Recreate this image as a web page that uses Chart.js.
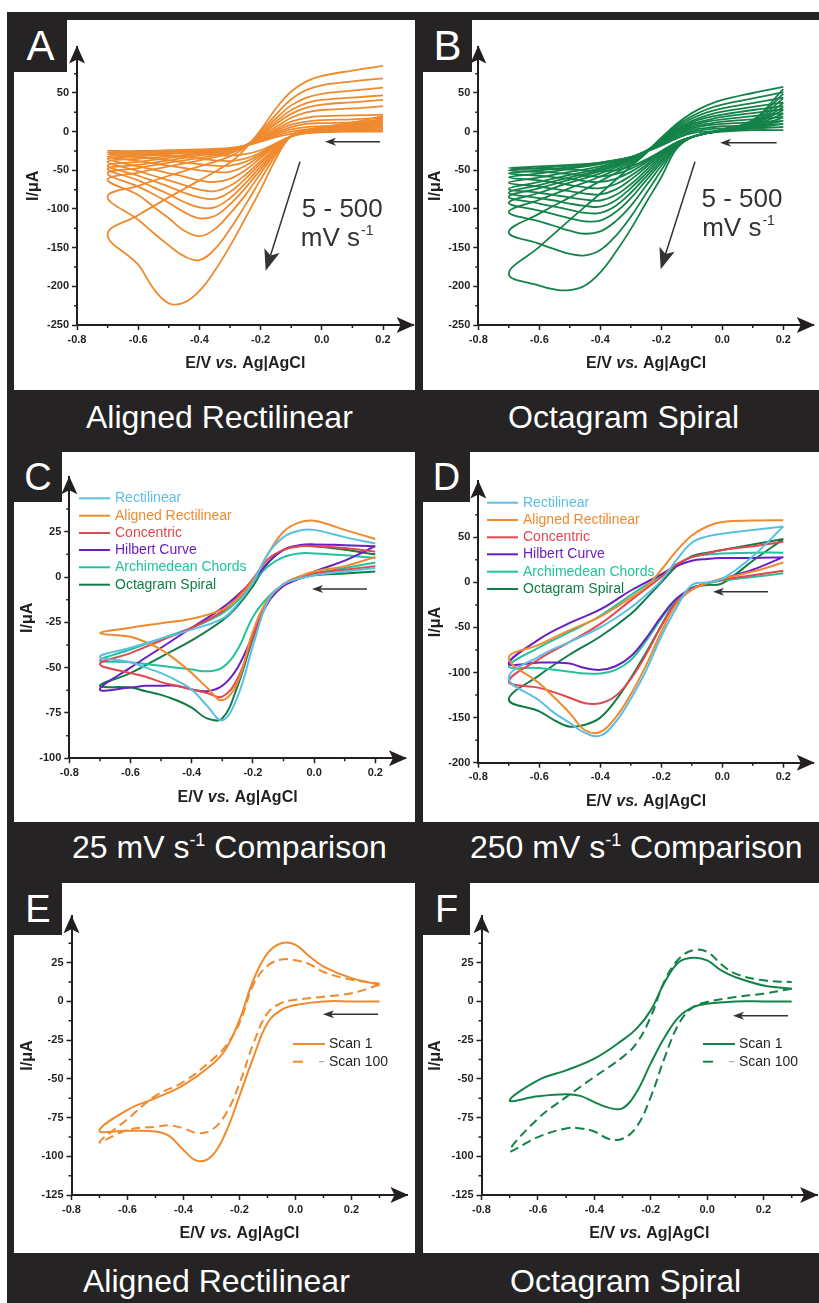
<!DOCTYPE html>
<html>
<head>
<meta charset="utf-8">
<script src="https://cdn.jsdelivr.net/npm/chart.js@4.4.1/dist/chart.umd.min.js"></script>
<style>
  body { margin: 0; width: 819px; height: 1303px; position: relative; overflow: hidden; background: #fff;
         font-family: 'Liberation Sans', Arial, Helvetica, sans-serif; }
  #frame { position: absolute; left: 7px; top: 12px; width: 812px; height: 1291px; background: #252324; }
  .panel { position: absolute; background: #fff; }
  .panel canvas { position: absolute; left: 0; top: 0; }
  .tag { position: absolute; left: 0; top: 0; background: #252324; color: #fff; text-align: center; z-index: 2; }
  .caption { position: absolute; color: #fff; font-size: 32px; line-height: 40px; white-space: nowrap; }
  .caption span { font-size: 18px; vertical-align: 12px; line-height: 0; }
</style>
</head>
<body>
<div id="frame"></div>

<div class="panel" style="left:14px;top:20px;width:401px;height:370px">
  <canvas id="chartA" width="401" height="370"></canvas>
  <div class="tag" style="width:53px;height:52px;line-height:52px;font-size:42px">A</div>
</div>
<div class="panel" style="left:423px;top:20px;width:396px;height:370px">
  <canvas id="chartB" width="396" height="370"></canvas>
  <div class="tag" style="width:49px;height:52px;line-height:52px;font-size:42px">B</div>
</div>
<div class="panel" style="left:14px;top:452px;width:401px;height:370px">
  <canvas id="chartC" width="401" height="370"></canvas>
  <div class="tag" style="width:48px;height:50px;line-height:50px;font-size:38px">C</div>
</div>
<div class="panel" style="left:423px;top:452px;width:396px;height:370px">
  <canvas id="chartD" width="396" height="370"></canvas>
  <div class="tag" style="width:47px;height:50px;line-height:50px;font-size:38px">D</div>
</div>
<div class="panel" style="left:14px;top:883px;width:401px;height:370px">
  <canvas id="chartE" width="401" height="370"></canvas>
  <div class="tag" style="width:48px;height:52px;line-height:52px;font-size:38px">E</div>
</div>
<div class="panel" style="left:423px;top:883px;width:396px;height:370px">
  <canvas id="chartF" width="396" height="370"></canvas>
  <div class="tag" style="width:47px;height:52px;line-height:52px;font-size:38px">F</div>
</div>

<div class="caption" style="left:86px;top:397px">Aligned Rectilinear</div>
<div class="caption" style="left:508px;top:397px">Octagram Spiral</div>
<div class="caption" style="left:72px;top:827px">25 mV s<span>-1</span> Comparison</div>
<div class="caption" style="left:470px;top:827px">250 mV s<span>-1</span> Comparison</div>
<div class="caption" style="left:83px;top:1261px">Aligned Rectilinear</div>
<div class="caption" style="left:510px;top:1261px">Octagram Spiral</div>

<script>
const INK = '#231f20';
const FONT = "'Liberation Sans', Arial, Helvetica, sans-serif";
Chart.defaults.font.family = FONT;

const ORANGE = '#ef8a2e';
const GREEN = '#14834a';

// potentials (V) where the currents were read: cathodic sweep, then return sweep
const FWD_E = [0.2, 0.1, 0.0, -0.05, -0.1, -0.15, -0.2, -0.25, -0.3, -0.35, -0.4, -0.45, -0.5, -0.55, -0.6, -0.7];
const REV_E = [-0.6, -0.5, -0.4, -0.3, -0.25, -0.2, -0.15, -0.1, -0.05, 0.0, 0.1, 0.2];
const FWD_E_SCAN = [0.3, 0.2, 0.1, 0.0, -0.05, -0.1, -0.15, -0.2, -0.25, -0.3, -0.35, -0.4, -0.45, -0.5, -0.6, -0.7];
const REV_E_SCAN = [-0.6, -0.5, -0.4, -0.3, -0.25, -0.2, -0.15, -0.1, -0.05, 0.0, 0.05, 0.1, 0.2, 0.3];

// A: aligned rectilinear, 500 -> 5 mV/s (uA)
const aForward = [
  [20, 12, 6, 2, -5, -35, -75, -112, -148, -180, -206, -221, -222, -203, -172, -133],
  [17, 10, 5, 1, -6, -30, -62, -95, -126, -152, -166, -161, -147, -131, -114, -84],
  [15, 9, 4, 0, -6, -27, -54, -82, -106, -126, -135, -128, -112, -97, -82, -62],
  [13, 8, 3, 0, -6, -25, -49, -73, -94, -109, -112, -104, -92, -81, -71, -54],
  [11, 7, 3, 0, -6, -24, -45, -67, -86, -98, -98, -91, -81, -72, -63, -48],
  [10, 6, 2, -1, -6, -22, -41, -61, -78, -87, -85, -79, -71, -64, -57, -44],
  [8, 5, 2, -1, -6, -21, -38, -56, -70, -77, -75, -69, -63, -57, -51, -39],
  [7, 4, 1, -1, -6, -19, -34, -50, -61, -65, -63, -58, -54, -49, -45, -35],
  [5, 3, 1, -1, -6, -18, -31, -44, -52, -52, -50, -47, -44, -41, -38, -32],
  [4, 2, 0, -1, -6, -17, -29, -39, -44, -44, -42, -40, -37, -35, -33, -29],
  [2, 1, 0, -2, -6, -16, -27, -35, -38, -37, -35, -33, -31, -30, -29, -27],
  [0, 0, -1, -2, -6, -15, -24, -29, -31, -30, -29, -28, -27, -26, -26, -25]
];
const aReverse = [
  [-108, -85, -63, -40, -22, 2, 30, 52, 65, 72, 79, 85],
  [-70, -57, -45, -32, -20, 0, 22, 42, 54, 60, 65, 69],
  [-53, -45, -37, -28, -19, -2, 17, 34, 44, 49, 53, 57],
  [-47, -40, -34, -26, -18, -4, 13, 28, 37, 41, 44, 47],
  [-43, -37, -31, -25, -18, -5, 10, 23, 31, 35, 38, 41],
  [-39, -34, -29, -24, -18, -6, 6, 18, 25, 28, 30, 33],
  [-35, -32, -28, -23, -18, -8, 3, 13, 18, 20, 21, 22],
  [-32, -29, -27, -23, -18, -9, 1, 9, 13, 15, 16, 18],
  [-30, -28, -26, -22, -18, -10, -1, 6, 10, 11, 12, 14],
  [-28, -27, -25, -22, -18, -11, -3, 3, 6, 7, 8, 10],
  [-26, -25, -24, -22, -18, -12, -5, 0, 3, 4, 4, 5],
  [-25, -24, -23, -21, -18, -13, -7, -3, 0, 1, 1, 1]
];

// B: octagram spiral, 500 -> 5 mV/s (uA)
const bForward = [
  [55, 15, 3, -2, -7, -22, -59, -92, -126, -156, -182, -199, -205, -204, -199, -184],
  [49, 14, 3, -2, -7, -20, -50, -80, -110, -135, -153, -160, -158, -152, -145, -130],
  [43, 12, 2, -2, -7, -19, -44, -70, -96, -116, -129, -132, -128, -122, -116, -104],
  [37, 11, 2, -2, -7, -18, -40, -63, -86, -104, -115, -116, -112, -107, -102, -92],
  [32, 10, 2, -2, -7, -17, -37, -58, -79, -96, -105, -105, -101, -97, -93, -84],
  [28, 9, 2, -2, -7, -16, -34, -54, -73, -89, -97, -96, -93, -89, -86, -79],
  [23, 8, 1, -2, -7, -15, -32, -50, -68, -82, -89, -88, -85, -82, -79, -74],
  [18, 7, 1, -2, -7, -15, -30, -46, -62, -75, -81, -80, -77, -74, -71, -66],
  [14, 6, 1, -2, -7, -14, -28, -43, -57, -68, -73, -72, -69, -66, -63, -59],
  [10, 5, 1, -2, -7, -14, -27, -40, -52, -61, -65, -64, -61, -59, -57, -54],
  [6, 4, 1, -2, -7, -14, -26, -38, -48, -55, -58, -57, -55, -53, -52, -50],
  [2, 2, 0, -2, -7, -14, -25, -36, -45, -50, -51, -50, -49, -48, -48, -47]
];
const bReverse = [
  [-149, -114, -80, -45, -28, -8, 10, 24, 34, 41, 50, 58],
  [-106, -85, -64, -42, -27, -8, 8, 20, 29, 35, 43, 51],
  [-88, -73, -58, -40, -27, -9, 6, 17, 25, 30, 37, 44],
  [-79, -66, -54, -38, -26, -10, 4, 14, 21, 26, 32, 38],
  [-73, -62, -51, -37, -25, -11, 2, 12, 18, 22, 28, 33],
  [-69, -59, -49, -36, -25, -12, 1, 10, 15, 19, 24, 29],
  [-65, -56, -47, -35, -25, -13, 0, 8, 13, 16, 20, 24],
  [-59, -52, -45, -34, -25, -14, -2, 6, 10, 13, 16, 19],
  [-54, -48, -42, -33, -25, -15, -3, 4, 8, 10, 12, 14],
  [-50, -46, -41, -33, -25, -16, -5, 2, 5, 7, 8, 10],
  [-47, -44, -40, -33, -26, -17, -7, 0, 3, 4, 5, 6],
  [-45, -43, -40, -33, -26, -18, -9, -2, 0, 1, 2, 2]
];

// C and D: electrode geometries compared
const geometries = ['Rectilinear', 'Aligned Rectilinear', 'Concentric', 'Hilbert Curve', 'Archimedean Chords', 'Octagram Spiral'];
const geometryColors = ['#5bbfe2', ORANGE, '#e3474f', '#6a1fc2', '#22c29b', '#0f7d45'];

const cForward = [
  [5, 3, 1, -1, -4, -13, -38, -66, -79, -71, -62, -57, -53, -50, -47, -44],
  [11, 6, 3, 0, -4, -12, -30, -58, -68, -61, -53, -46, -40, -36, -33, -31],
  [6, 4, 2, 0, -4, -13, -33, -56, -66, -64, -62, -60, -58, -55, -53, -48],
  [17, 9, 3, -1, -5, -14, -32, -50, -60, -63, -62, -60, -60, -60, -61, -62],
  [8, 5, 2, 0, -4, -11, -22, -40, -50, -52, -51, -50, -49, -48, -47, -46],
  [3, 2, 1, -1, -4, -13, -34, -60, -78, -78, -72, -68, -65, -63, -61, -60]
];
const cReverse = [
  [-39, -34, -29, -23, -15, -3, 13, 22, 25.5, 26, 22, 18.5],
  [-28, -25.5, -23, -18, -12, -2, 13, 25, 30, 31, 26, 21],
  [-42, -35, -28, -19, -11, -1, 10, 15, 17, 17, 16, 14],
  [-50, -39, -28, -17, -10, -2, 8, 15, 17.5, 18, 17.5, 17],
  [-40, -34, -28, -20, -13, -3, 6, 11, 13, 13, 12, 10.5],
  [-53, -44, -35, -24, -16, -5, 8, 15, 17, 17, 15, 12.5]
];

const dForward = [
  [62, 29, 4, 0, -3, -28, -60, -98, -129, -155, -170, -167, -156, -145, -131, -106],
  [22, 12, 4, -1, -8, -24, -55, -92, -124, -150, -166, -164, -145, -128, -112, -84],
  [13, 8, 3, -1, -8, -22, -48, -80, -107, -126, -134, -134, -128, -122, -117, -110],
  [28, 14, 4, -1, -7, -18, -38, -62, -82, -93, -97, -95, -90, -89, -89, -90],
  [10, 6, 2, -1, -7, -19, -40, -65, -86, -97, -101, -101, -99, -97, -95, -93],
  [48, 24, -1, -3, -6, -20, -48, -78, -106, -131, -150, -158, -160, -153, -143, -130]
];
const dReverse = [
  [-82, -66, -50, -28, -14, 2, 25, 44, 51, 54, 58, 62],
  [-69, -53, -38, -17, -5, 14, 35, 52, 62, 67, 68.5, 69],
  [-85, -66, -46, -20, -7, 6, 20, 28, 32, 36, 40, 45],
  [-63, -45, -30, -9, 0, 9, 18, 24, 26, 27, 27, 28],
  [-72, -55, -37, -14, -3, 8, 20, 28, 31, 32, 33, 33],
  [-103, -80, -60, -35, -18, 0, 18, 29, 33, 36, 42, 48]
];

// E and F: scan 1 vs scan 100
const scanLabels = ['Scan 1', 'Scan 100'];
const eForward = [
  [0, 0, 0, -2.3, -5.5, -14, -36, -61, -85, -100, -103, -96, -87, -84, -83.5, -83.5],
  [10.7, 5.3, 3, 1, -1, -7.6, -27, -53, -73, -83, -85, -82, -80, -81, -83, -91]
];
const eReverse = [
  [-70, -62.5, -54, -41, -31, -12, 14, 31, 37.5, 36.5, 29, 22.5, 15, 10.7],
  [-76, -61, -52, -38, -29, -14, 11, 23, 27, 26.5, 24, 19, 14, 11.5]
];
const fForward = [
  [0, 0, 0, -1.5, -3.7, -10, -23, -40, -58.5, -69, -68.6, -65, -61, -60, -61.3, -64],
  [8.2, 5, 2.8, -0.4, -3.7, -14.4, -36, -61.8, -81, -88.7, -88.7, -84, -82, -82, -87.6, -96.6]
];
const fReverse = [
  [-51, -44.5, -37, -25, -17.6, -5.8, 12.5, 25.4, 28.2, 26.5, 20, 15.7, 10.3, 8.2],
  [-75.7, -61.8, -48.8, -36, -27, -10, 13.6, 27.5, 33, 32, 24, 17.9, 13.6, 12.5]
];

// tick values
const xTicks = [-0.8, -0.6, -0.4, -0.2, 0.0, 0.2];
const xMinorAB = [-0.7, -0.5, -0.3, -0.1, 0.1];
const xMinorEF = [-0.7, -0.5, -0.3, -0.1, 0.1, 0.3];
const yTicksAB = [-250, -200, -150, -100, -50, 0, 50];
const yMinorAB = [-225, -175, -125, -75, -25, 25, 75];
const yTicksC = [-100, -75, -50, -25, 0, 25];
const yMinorC = [-87.5, -62.5, -37.5, -12.5, 12.5, 37.5];
const yTicksD = [-200, -150, -100, -50, 0, 50];
const yMinorD = [-175, -125, -75, -25, 25, 75];
const yTicksEF = [-125, -100, -75, -50, -25, 0, 25];
const yMinorEF = [-112.5, -87.5, -62.5, -37.5, -12.5, 12.5, 37.5];

function loop(eF, iF, eR, iR) {
  return eF.map((e, k) => ({x: e, y: iF[k]})).concat(eR.map((e, k) => ({x: e, y: iR[k]})));
}

function arrowHead(ctx, tx, ty, dx, dy, len, half, notch) {
  const px = -dy, py = dx;
  ctx.beginPath();
  ctx.moveTo(tx, ty);
  ctx.lineTo(tx - dx * len + px * half, ty - dy * len + py * half);
  ctx.lineTo(tx - dx * (len - notch), ty - dy * (len - notch));
  ctx.lineTo(tx - dx * len - px * half, ty - dy * len - py * half);
  ctx.closePath();
  ctx.fill();
}

function arrow(ctx, x0, y0, x1, y1, len, half, notch) {
  const d = Math.hypot(x1 - x0, y1 - y0), dx = (x1 - x0) / d, dy = (y1 - y0) / d;
  ctx.beginPath();
  ctx.moveTo(x0, y0);
  ctx.lineTo(x1 - dx * (len - notch), y1 - dy * (len - notch));
  ctx.stroke();
  arrowHead(ctx, x1, y1, dx, dy, len, half, notch);
}

const decoPlugin = {
  id: 'deco',
  afterDraw(chart, args, o) {
    const {ctx, chartArea: a} = chart;
    const sx = chart.scales.x, sy = chart.scales.y;
    ctx.save();
    ctx.strokeStyle = INK;
    ctx.fillStyle = INK;
    ctx.lineWidth = 1.5;
    ctx.beginPath();
    o.minorX.forEach(v => { const p = sx.getPixelForValue(v); ctx.moveTo(p, a.bottom); ctx.lineTo(p, a.bottom + 3); });
    o.minorY.forEach(v => { const p = sy.getPixelForValue(v); ctx.moveTo(a.left, p); ctx.lineTo(a.left - 3, p); });
    ctx.stroke();
    arrowHead(ctx, a.left, a.top - 1, 0, -1, 18, 8, 4);
    arrowHead(ctx, a.right + 1, a.bottom, 1, 0, 18, 8, 4);

    // x axis title with italic "vs."
    const parts = [['E/V ', 'bold 16px ' + FONT], ['vs.', 'italic bold 16px ' + FONT], [' Ag|AgCl', 'bold 16px ' + FONT]];
    let w = 0;
    parts.forEach(p => { ctx.font = p[1]; w += ctx.measureText(p[0]).width; });
    let x = (a.left + a.right) / 2 - w / 2;
    ctx.textAlign = 'left';
    ctx.textBaseline = 'alphabetic';
    parts.forEach(p => { ctx.font = p[1]; ctx.fillText(p[0], x, o.xTitleY); x += ctx.measureText(p[0]).width; });

    // scan direction arrow
    const s = o.scanArrow;
    ctx.strokeStyle = '#333';
    ctx.fillStyle = '#333';
    ctx.lineWidth = 1.5;
    arrow(ctx, s.x0, s.y, s.x1, s.y, 11, 4, 3);

    if (o.diag) {
      const g = o.diag;
      arrow(ctx, g.x0, g.y0, g.x1, g.y1, 21, 8, 5);
      ctx.font = '26px ' + FONT;
      ctx.textAlign = 'center';
      ctx.fillText('5 - 500', g.tx1, g.ty1);
      ctx.textAlign = 'left';
      const w1 = ctx.measureText('mV s').width;
      ctx.font = '14px ' + FONT;
      const w2 = ctx.measureText('-1').width;
      const sx0 = g.tx2 - (w1 + w2) / 2;
      ctx.font = '26px ' + FONT;
      ctx.fillText('mV s', sx0, g.ty2);
      ctx.font = '14px ' + FONT;
      ctx.fillText('-1', sx0 + w1 + 1, g.ty2 - 11);
    }

    if (o.legend) {
      const L = o.legend;
      ctx.font = '14px ' + FONT;
      ctx.textBaseline = 'middle';
      ctx.textAlign = 'left';
      chart.data.datasets.forEach((ds, i) => {
        const y = L.rows[i];
        ctx.strokeStyle = ds.borderColor;
        ctx.lineWidth = 2;
        ctx.beginPath(); ctx.moveTo(L.x0, y); ctx.lineTo(L.x1, y); ctx.stroke();
        ctx.fillStyle = ds.borderColor;
        ctx.fillText(ds.label, L.tx, y);
      });
    }

    if (o.scanLegend) {
      const L = o.scanLegend;
      ctx.font = '14px ' + FONT;
      ctx.textBaseline = 'middle';
      ctx.textAlign = 'left';
      chart.data.datasets.forEach((ds, i) => {
        const y = L.rows[i];
        ctx.strokeStyle = ds.borderColor;
        ctx.lineWidth = 2;
        ctx.beginPath();
        if (i === 0) { ctx.moveTo(L.x0, y); ctx.lineTo(L.x1, y); }
        else { ctx.moveTo(L.x0, y); ctx.lineTo(L.x0 + 10, y); }
        ctx.stroke();
        if (i === 1) {
          ctx.strokeStyle = '#9a9a9a'; ctx.lineWidth = 1;
          ctx.beginPath(); ctx.moveTo(L.x0 + 26, y); ctx.lineTo(L.x0 + 31, y); ctx.stroke();
        }
        ctx.fillStyle = INK;
        ctx.fillText(ds.label, L.tx, y);
      });
    }
    ctx.restore();
  }
};

function makeChart(id, c) {
  const tickFont = {size: 11, weight: 'bold'};
  const grid = {drawOnChartArea: false, drawTicks: true, tickLength: 5, tickWidth: 1.5, tickColor: INK};
  const border = {display: true, color: INK, width: 2};
  return new Chart(document.getElementById(id), {
    type: 'scatter',
    data: {datasets: c.datasets},
    options: {
      responsive: false,
      animation: false,
      devicePixelRatio: 1,
      layout: {padding: {top: c.top, right: c.right, left: 0, bottom: 0}},
      elements: {point: {radius: 0}},
      plugins: {legend: {display: false}, tooltip: {enabled: false}, deco: c.deco},
      scales: {
        x: {
          type: 'linear', min: -0.8, max: c.xMax,
          afterFit: s => { s.height = c.xH; },
          afterBuildTicks: s => { s.ticks = xTicks.map(v => ({value: v})); },
          ticks: {callback: v => v.toFixed(1), font: tickFont, color: INK, padding: 3, maxRotation: 0, autoSkip: false},
          grid: grid, border: border
        },
        y: {
          type: 'linear', min: c.yMin, max: c.yMax,
          afterFit: s => { s.width = c.yW; },
          afterBuildTicks: s => { s.ticks = c.yTicks.map(v => ({value: v})); },
          ticks: {callback: v => String(v), font: tickFont, color: INK, padding: 3, autoSkip: false},
          title: {display: true, text: 'I/μA', font: {size: 16, weight: 'bold'}, color: INK, padding: {top: c.yTitlePad, bottom: 0}},
          grid: grid, border: border
        }
      }
    },
    plugins: [decoPlugin]
  });
}

function familySets(fwd, rev, color) {
  return fwd.map((f, i) => ({
    label: 'run ' + (i + 1), data: loop(FWD_E, f, REV_E, rev[i]), showLine: true,
    borderColor: color, borderWidth: 1.8, tension: 0.4, pointRadius: 0
  }));
}
function compareSets(fwd, rev) {
  return fwd.map((f, i) => ({
    label: geometries[i], data: loop(FWD_E, f, REV_E, rev[i]), showLine: true,
    borderColor: geometryColors[i], borderWidth: 2, tension: 0.4, pointRadius: 0
  }));
}
function scanSets(fwd, rev, color) {
  return fwd.map((f, i) => ({
    label: scanLabels[i], data: loop(FWD_E_SCAN, f, REV_E_SCAN, rev[i]), showLine: true,
    borderColor: color, borderWidth: 2, borderDash: i === 1 ? [9, 5] : [], tension: 0.4, pointRadius: 0
  }));
}

makeChart('chartA', {
  datasets: familySets(aForward, aReverse, ORANGE),
  top: 26.6, right: 1.4, yW: 63, xH: 65, xMax: 0.3, yMin: -250, yMax: 110, yTicks: yTicksAB, yTitlePad: 10.4,
  deco: {minorX: xMinorAB, minorY: yMinorAB, xTitleY: 347.7,
         scanArrow: {x0: 366, x1: 311, y: 121.7},
         diag: {x0: 286, y0: 141.7, x1: 251.7, y1: 250.7, tx1: 328.3, ty1: 196.7, tx2: 322.7, ty2: 226}}
});
makeChart('chartB', {
  datasets: familySets(bForward, bReverse, GREEN),
  top: 26.6, right: 5.2, yW: 55.3, xH: 65, xMax: 0.3, yMin: -250, yMax: 110, yTicks: yTicksAB, yTitlePad: 3.4,
  deco: {minorX: xMinorAB, minorY: yMinorAB, xTitleY: 347.7,
         scanArrow: {x0: 353.7, x1: 297, y: 122.7},
         diag: {x0: 272, y0: 141.7, x1: 237.7, y1: 249.3, tx1: 319, ty1: 186.7, tx2: 315, ty2: 216}}
});
makeChart('chartC', {
  datasets: compareSets(cForward, cReverse),
  top: 25.3, right: 9.1, yW: 55.3, xH: 63.7, xMax: 0.3, yMin: -100, yMax: 55, yTicks: yTicksC, yTitlePad: 3.9,
  deco: {minorX: xMinorAB, minorY: yMinorC, xTitleY: 349.7,
         scanArrow: {x0: 353, x1: 298, y: 137},
         legend: {x0: 65, x1: 96, tx: 101, rows: [46.3, 63.7, 81, 98, 115.3, 132.7]}}
});
makeChart('chartD', {
  datasets: compareSets(dForward, dReverse),
  top: 29.4, right: 5.2, yW: 55.3, xH: 59.3, xMax: 0.3, yMin: -200, yMax: 112, yTicks: yTicksD, yTitlePad: 3.4,
  deco: {minorX: xMinorAB, minorY: yMinorD, xTitleY: 353.7,
         scanArrow: {x0: 345, x1: 290, y: 139.7},
         legend: {x0: 64, x1: 95, tx: 100, rows: [50.7, 68, 85.3, 102.3, 119.7, 137]}}
});
makeChart('chartE', {
  datasets: scanSets(eForward, eReverse, ORANGE),
  top: 33.2, right: 7.5, yW: 57.5, xH: 58, xMax: 0.4, yMin: -125, yMax: 55, yTicks: yTicksEF, yTitlePad: 3.9,
  deco: {minorX: xMinorEF, minorY: yMinorEF, xTitleY: 355,
         scanArrow: {x0: 364, x1: 309, y: 131.3},
         scanLegend: {x0: 279, x1: 311, tx: 315, rows: [161, 178.7]}}
});
makeChart('chartF', {
  datasets: scanSets(fForward, fReverse, GREEN),
  top: 33.2, right: 1.9, yW: 58.5, xH: 58, xMax: 0.39, yMin: -125, yMax: 55, yTicks: yTicksEF, yTitlePad: 3.4,
  deco: {minorX: xMinorEF, minorY: yMinorEF, xTitleY: 355,
         scanArrow: {x0: 365, x1: 310, y: 132.7},
         scanLegend: {x0: 280, x1: 312, tx: 316, rows: [161, 178.7]}}
});
</script>
</body>
</html>
